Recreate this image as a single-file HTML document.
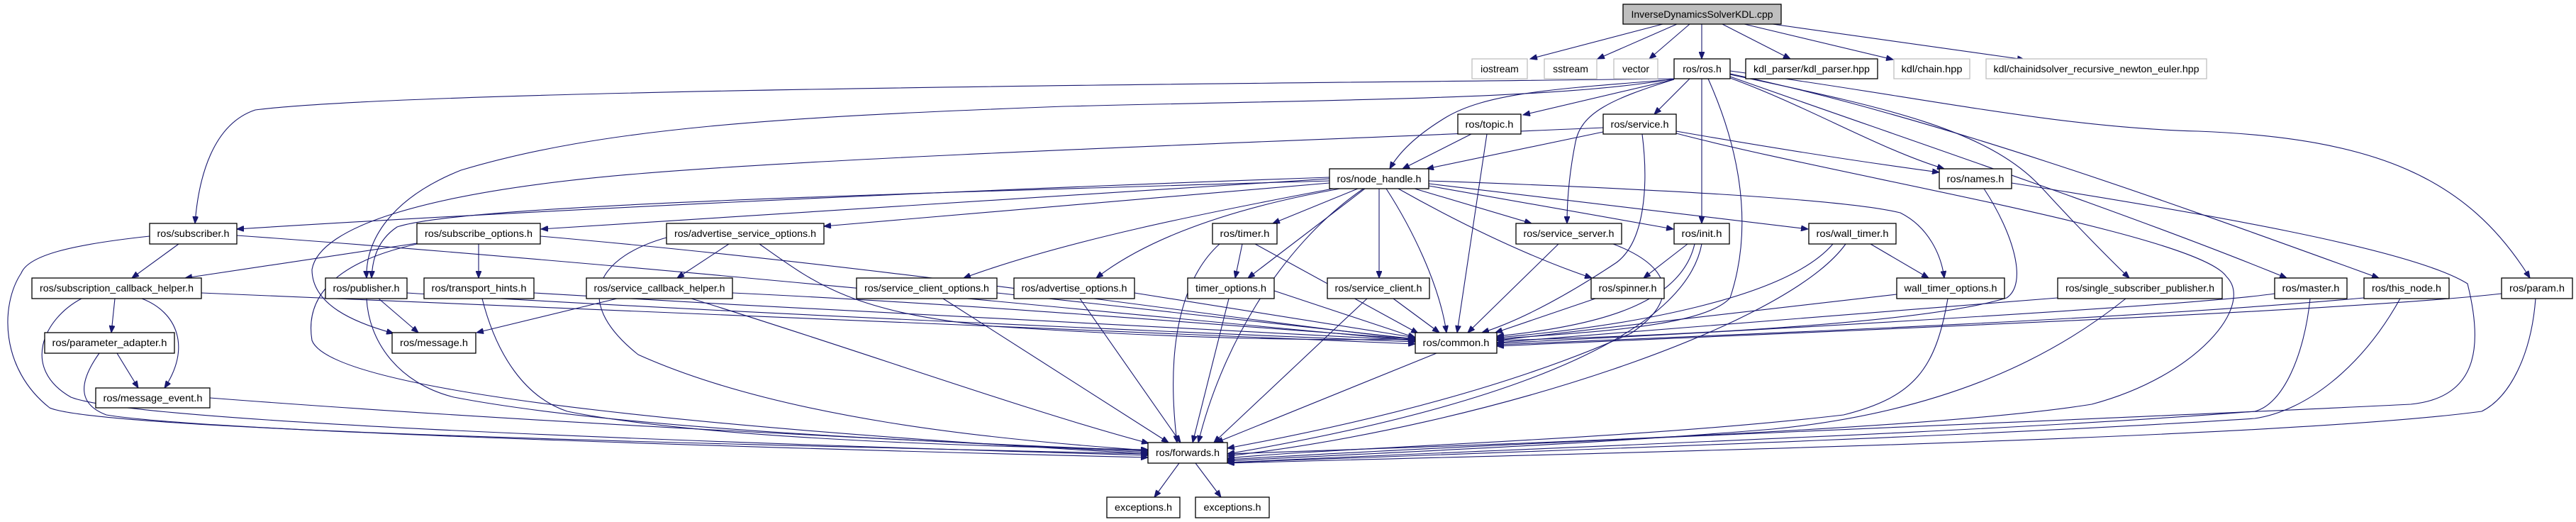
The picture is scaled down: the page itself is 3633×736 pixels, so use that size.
<!DOCTYPE html>
<html><head><meta charset="utf-8"><style>
html,body{margin:0;padding:0;background:#fff;}
svg{display:block;}
text{font-family:"Liberation Sans",sans-serif;font-size:14px;fill:#000;}
.e{fill:none;stroke:#191970;stroke-width:1.1;}
.n{fill:#fff;stroke:#000;stroke-width:1.3;}
.g{fill:#fff;stroke:#bfbfbf;stroke-width:1.3;}
</style></head><body>
<svg width="3633" height="736" viewBox="0 0 3633 736" xmlns="http://www.w3.org/2000/svg">
<defs><marker id="a" markerUnits="userSpaceOnUse" markerWidth="11" markerHeight="8" refX="10" refY="4" orient="auto"><path d="M0,0 L10,4 L0,8 z" fill="#191970" stroke="#191970"/></marker></defs>
<g class="e" marker-end="url(#a)">
<path d="M2345,34 L2158,83"/>
<path d="M2365,34 L2253,83"/>
<path d="M2383,34 L2326,83"/>
<path d="M2400,34 L2400,83"/>
<path d="M2429,34 L2525,83"/>
<path d="M2460,34 L2670,84"/>
<path d="M2500,34 L2855,84"/>
<path d="M2361,111 C1800,118 600,125 360,155 C300,175 280,250 275,315"/>
<path d="M2361,111 C2200,140 1900,140 1500,150 C1100,165 850,180 650,240 C550,280 515,340 517,392"/>
<path d="M2361,112 C2200,125 2100,130 2040,165 C1990,195 1970,220 1960,238"/>
<path d="M2361,112 L2148,162"/>
<path d="M2361,112 C2270,140 2230,160 2222,200 C2212,250 2210,290 2210,315"/>
<path d="M2383,111 L2333,161"/>
<path d="M2400,111 L2400,315"/>
<path d="M2409,111 C2440,180 2480,300 2440,420 C2400,465 2200,470 2111,478"/>
<path d="M2440,110 C2550,150 2650,210 2742,238"/>
<path d="M2364,185 C2450,200 2600,225 2735,243"/>
<path d="M2440,105 C2650,150 2800,180 2878,263 C2930,320 2980,370 3003,392"/>
<path d="M2440,108 C2700,200 3000,300 3225,392"/>
<path d="M2440,104 C2750,170 3100,300 3355,392"/>
<path d="M2440,100 C2700,135 2900,180 3100,185 C3350,195 3480,250 3568,392"/>
<path d="M2261,186 L2012,238"/>
<path d="M2316,189 C2325,260 2320,340 2280,370 C2220,410 2150,450 2090,469"/>
<path d="M2364,188 C2600,250 3100,330 3140,390 C3180,430 3100,530 2950,570 C2700,610 2000,630 1731,640"/>
<path d="M2261,180 C1800,200 1200,220 900,245 C600,270 450,320 440,380 C440,430 500,455 555,470"/>
<path d="M2075,189 L1978,238"/>
<path d="M2097,189 L2055,469"/>
<path d="M1875,250 C1300,270 700,300 334,323"/>
<path d="M1875,252 L763,323"/>
<path d="M1875,255 C1200,275 650,290 560,320 C530,340 525,370 524,392"/>
<path d="M1875,258 L1162,319"/>
<path d="M1880,266 C1700,300 1500,340 1359,392"/>
<path d="M1890,266 C1700,300 1600,350 1546,392"/>
<path d="M1915,266 L1795,315"/>
<path d="M1925,266 L1760,392"/>
<path d="M1945,266 L1945,392"/>
<path d="M1955,266 C1990,320 2030,400 2040,469"/>
<path d="M1995,266 L2160,315"/>
<path d="M1972,266 C2050,310 2150,360 2245,392"/>
<path d="M2015,262 L2360,323"/>
<path d="M2015,259 L2550,323"/>
<path d="M2015,255 C2300,265 2600,280 2680,300 C2720,320 2738,360 2742,392"/>
<path d="M1923,266 C1800,350 1720,500 1690,624"/>
<path d="M252,344 L186,392"/>
<path d="M211,333 C100,345 40,360 30,385 C0,430 0,520 70,575 C150,610 1200,630 1619,640"/>
<path d="M334,332 C900,372 1700,455 1996,480"/>
<path d="M588,343 L261,392"/>
<path d="M675,344 L675,392"/>
<path d="M762,333 C1300,380 1800,460 1996,478"/>
<path d="M588,344 C470,370 430,420 440,480 C470,560 1100,610 1619,640"/>
<path d="M162,421 L157,469"/>
<path d="M200,421 C250,440 270,490 232,547"/>
<path d="M115,421 C60,450 30,520 100,560 C200,600 1200,630 1619,642"/>
<path d="M284,413 C900,440 1700,470 1996,485"/>
<path d="M165,498 L195,547"/>
<path d="M140,498 C110,540 110,570 150,585 C300,610 1200,635 1619,645"/>
<path d="M296,561 C800,600 1400,625 1619,638"/>
<path d="M534,421 L590,469"/>
<path d="M517,421 C520,480 560,540 640,560 C900,610 1400,625 1619,636"/>
<path d="M574,413 C1000,440 1700,470 1996,482"/>
<path d="M680,421 C700,500 740,560 800,580 C1000,620 1400,630 1619,634"/>
<path d="M753,413 C1200,440 1700,465 1996,480"/>
<path d="M870,421 L672,469"/>
<path d="M975,421 C1200,490 1450,580 1620,625"/>
<path d="M1033,413 C1400,430 1800,465 1996,478"/>
<path d="M1028,344 L955,392"/>
<path d="M1071,344 C1150,400 1200,440 1400,460 C1700,480 1900,480 1996,478"/>
<path d="M940,335 C850,360 800,420 900,500 C1100,590 1400,620 1619,635"/>
<path d="M1330,421 L1648,624"/>
<path d="M1406,413 L1996,478"/>
<path d="M1523,421 L1665,624"/>
<path d="M1600,413 L1996,476"/>
<path d="M1752,344 L1742,392"/>
<path d="M1720,344 C1680,380 1640,460 1660,624"/>
<path d="M1770,344 L2000,470"/>
<path d="M1733,421 L1682,624"/>
<path d="M1797,410 L1996,476"/>
<path d="M1965,421 L2030,469"/>
<path d="M1928,421 L1712,624"/>
<path d="M2198,344 L2070,469"/>
<path d="M2275,344 C2370,380 2360,430 2300,470 C2100,560 1850,610 1731,632"/>
<path d="M2250,421 L2109,469"/>
<path d="M2380,344 L2318,392"/>
<path d="M2390,344 C2370,430 2250,460 2111,474"/>
<path d="M2400,344 C2380,450 2200,560 1731,640"/>
<path d="M2638,344 L2720,392"/>
<path d="M2585,344 C2520,420 2300,460 2111,476"/>
<path d="M2603,344 C2520,460 2100,600 1731,643"/>
<path d="M2675,415 L2111,480"/>
<path d="M2747,421 C2730,520 2700,560 2600,585 C2300,620 1900,630 1731,646"/>
<path d="M2798,266 C2840,330 2860,400 2830,420 C2700,460 2300,475 2111,480"/>
<path d="M2837,258 C3100,300 3400,350 3480,400 C3500,480 3500,560 3400,570 C3000,590 2200,620 1731,648"/>
<path d="M2902,420 L2111,483"/>
<path d="M2998,421 C2900,500 2750,580 2500,605 C2200,630 1900,640 1731,650"/>
<path d="M3208,414 C3100,430 2500,465 2111,484"/>
<path d="M3258,421 C3250,500 3220,570 3180,580 C2800,610 2200,630 1731,652"/>
<path d="M3334,420 C3000,450 2500,470 2111,486"/>
<path d="M3385,421 C3330,520 3250,580 3180,590 C2800,615 2200,635 1731,652"/>
<path d="M3528,414 C3300,440 2500,470 2111,488"/>
<path d="M3576,421 C3570,500 3540,560 3500,580 C3200,620 2200,640 1731,653"/>
<path d="M2026,498 L1715,624"/>
<path d="M1663,653 L1628,701"/>
<path d="M1686,653 L1722,701"/>
</g>
<g text-anchor="middle">
<rect x="2289" y="6" width="223" height="28" fill="#bfbfbf" stroke="#000" stroke-width="1.3"/><text x="2400.5" y="25" textLength="200" lengthAdjust="spacingAndGlyphs">InverseDynamicsSolverKDL.cpp</text>
<rect class="g" x="2076" y="83" width="78" height="28"/><text x="2115" y="102">iostream</text>
<rect class="g" x="2178" y="83" width="74" height="28"/><text x="2215" y="102">sstream</text>
<rect class="g" x="2276" y="83" width="62" height="28"/><text x="2307" y="102">vector</text>
<rect class="n" x="2361" y="83" width="79" height="28"/><text x="2400.5" y="102">ros/ros.h</text>
<rect class="n" x="2462" y="83" width="186" height="28"/><text x="2555" y="102" textLength="164" lengthAdjust="spacingAndGlyphs">kdl_parser/kdl_parser.hpp</text>
<rect class="g" x="2671" y="83" width="107" height="28"/><text x="2724.5" y="102" textLength="86" lengthAdjust="spacingAndGlyphs">kdl/chain.hpp</text>
<rect class="g" x="2801" y="83" width="311" height="28"/><text x="2956.5" y="102" textLength="290" lengthAdjust="spacingAndGlyphs">kdl/chainidsolver_recursive_newton_euler.hpp</text>
<rect class="n" x="2056" y="161" width="89" height="28"/><text x="2100.5" y="180" textLength="68" lengthAdjust="spacingAndGlyphs">ros/topic.h</text>
<rect class="n" x="2261" y="161" width="103" height="28"/><text x="2312.5" y="180" textLength="82" lengthAdjust="spacingAndGlyphs">ros/service.h</text>
<rect class="n" x="1875" y="238" width="140" height="28"/><text x="1945" y="257" textLength="119" lengthAdjust="spacingAndGlyphs">ros/node_handle.h</text>
<rect class="n" x="2735" y="238" width="102" height="28"/><text x="2786" y="257" textLength="81" lengthAdjust="spacingAndGlyphs">ros/names.h</text>
<rect class="n" x="211" y="315" width="123" height="29"/><text x="272.5" y="334" textLength="102" lengthAdjust="spacingAndGlyphs">ros/subscriber.h</text>
<rect class="n" x="588" y="315" width="174" height="29"/><text x="675" y="334" textLength="152" lengthAdjust="spacingAndGlyphs">ros/subscribe_options.h</text>
<rect class="n" x="940" y="315" width="222" height="29"/><text x="1051" y="334" textLength="200" lengthAdjust="spacingAndGlyphs">ros/advertise_service_options.h</text>
<rect class="n" x="1710" y="315" width="91" height="29"/><text x="1755.5" y="334" textLength="70" lengthAdjust="spacingAndGlyphs">ros/timer.h</text>
<rect class="n" x="2138" y="315" width="149" height="29"/><text x="2212.5" y="334" textLength="128" lengthAdjust="spacingAndGlyphs">ros/service_server.h</text>
<rect class="n" x="2361" y="315" width="78" height="29"/><text x="2400" y="334" textLength="57" lengthAdjust="spacingAndGlyphs">ros/init.h</text>
<rect class="n" x="2551" y="315" width="123" height="29"/><text x="2612.5" y="334" textLength="102" lengthAdjust="spacingAndGlyphs">ros/wall_timer.h</text>
<rect class="n" x="45" y="392" width="239" height="29"/><text x="164.5" y="411" textLength="217" lengthAdjust="spacingAndGlyphs">ros/subscription_callback_helper.h</text>
<rect class="n" x="459" y="392" width="115" height="29"/><text x="516.5" y="411" textLength="94" lengthAdjust="spacingAndGlyphs">ros/publisher.h</text>
<rect class="n" x="598" y="392" width="155" height="29"/><text x="675.5" y="411" textLength="134" lengthAdjust="spacingAndGlyphs">ros/transport_hints.h</text>
<rect class="n" x="827" y="392" width="206" height="29"/><text x="930" y="411" textLength="185" lengthAdjust="spacingAndGlyphs">ros/service_callback_helper.h</text>
<rect class="n" x="1208" y="392" width="198" height="29"/><text x="1307" y="411" textLength="176" lengthAdjust="spacingAndGlyphs">ros/service_client_options.h</text>
<rect class="n" x="1430" y="392" width="170" height="29"/><text x="1515" y="411" textLength="149" lengthAdjust="spacingAndGlyphs">ros/advertise_options.h</text>
<rect class="n" x="1675" y="392" width="122" height="29"/><text x="1736" y="411" textLength="100" lengthAdjust="spacingAndGlyphs">timer_options.h</text>
<rect class="n" x="1872" y="392" width="144" height="29"/><text x="1944" y="411" textLength="123" lengthAdjust="spacingAndGlyphs">ros/service_client.h</text>
<rect class="n" x="2244" y="392" width="103" height="29"/><text x="2295.5" y="411" textLength="82" lengthAdjust="spacingAndGlyphs">ros/spinner.h</text>
<rect class="n" x="2675" y="392" width="152" height="29"/><text x="2751" y="411" textLength="131" lengthAdjust="spacingAndGlyphs">wall_timer_options.h</text>
<rect class="n" x="2902" y="392" width="232" height="29"/><text x="3018" y="411" textLength="210" lengthAdjust="spacingAndGlyphs">ros/single_subscriber_publisher.h</text>
<rect class="n" x="3208" y="392" width="102" height="29"/><text x="3259" y="411" textLength="81" lengthAdjust="spacingAndGlyphs">ros/master.h</text>
<rect class="n" x="3334" y="392" width="120" height="29"/><text x="3394" y="411" textLength="98" lengthAdjust="spacingAndGlyphs">ros/this_node.h</text>
<rect class="n" x="3528" y="392" width="100" height="29"/><text x="3578" y="411" textLength="78" lengthAdjust="spacingAndGlyphs">ros/param.h</text>
<rect class="n" x="63" y="469" width="183" height="29"/><text x="154.5" y="488" textLength="162" lengthAdjust="spacingAndGlyphs">ros/parameter_adapter.h</text>
<rect class="n" x="553" y="469" width="118" height="29"/><text x="612" y="488" textLength="96" lengthAdjust="spacingAndGlyphs">ros/message.h</text>
<rect class="n" x="1996" y="469" width="115" height="29"/><text x="2053.5" y="488" textLength="94" lengthAdjust="spacingAndGlyphs">ros/common.h</text>
<rect class="n" x="135" y="547" width="161" height="28"/><text x="215.5" y="566" textLength="140" lengthAdjust="spacingAndGlyphs">ros/message_event.h</text>
<rect class="n" x="1619" y="624" width="112" height="29"/><text x="1675" y="643" textLength="90" lengthAdjust="spacingAndGlyphs">ros/forwards.h</text>
<rect class="n" x="1561" y="701" width="103" height="29"/><text x="1612.5" y="720" textLength="81" lengthAdjust="spacingAndGlyphs">exceptions.h</text>
<rect class="n" x="1686" y="701" width="104" height="29"/><text x="1738" y="720" textLength="81" lengthAdjust="spacingAndGlyphs">exceptions.h</text>
</g>
</svg>
</body></html>
